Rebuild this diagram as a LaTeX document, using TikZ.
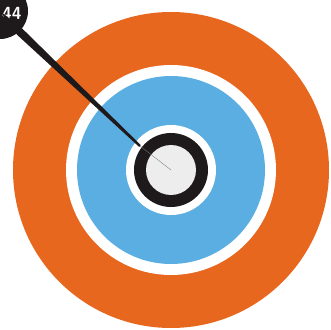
\documentclass[tikz,border=0pt]{standalone}
\usepackage{tikz}
\usetikzlibrary{calc}
\definecolor{ringorange}{HTML}{E8671E}
\definecolor{ringblue}{HTML}{5BAEE2}
\definecolor{ringblack}{HTML}{1E1A1B}
\definecolor{bullgray}{HTML}{EDEDED}

\begin{document}
\begin{tikzpicture}[x=0.3mm, y=0.3mm,
    ring/.style={draw=none},
    tag/.style={circle, fill=ringblack, minimum size=56*0.3mm, inner sep=0pt},
    taglbl/.style={text=white, inner sep=0pt, anchor=west,
      font=\sffamily\bfseries\fontsize{15}{15}\selectfont}]
  \useasboundingbox (0,0) rectangle (331,329);
  \fill[white] (0,0) rectangle (331,329);
  % --- Target rings ---
  \coordinate (c) at (171,159);
  \fill[ring, ringorange] (c) circle[radius=158];
  \fill[ring, white]      (c) circle[radius=105];
  \fill[ring, ringblue]   (c) circle[radius=94];
  \fill[ring, white]      (c) circle[radius=45];
  \fill[ring, ringblack]  (c) circle[radius=37];
  \fill[ring, bullgray]   (c) circle[radius=25];
  % --- Pin and tag ---
  \node[tag] (tag) at (0,318) {};
  \node[taglbl] (num) at (2,316) {44};
  \coordinate (tip) at (140,183);
  \fill[ringblack] (tag.center) -- (22.8,299.9) -- (140.8,183.9)
    -- (139.2,182.1) -- (17.2,294.1) -- cycle;
  \draw[ringblack!60, line width=0.3pt] (tip) -- (c);
\end{tikzpicture}
\end{document}
